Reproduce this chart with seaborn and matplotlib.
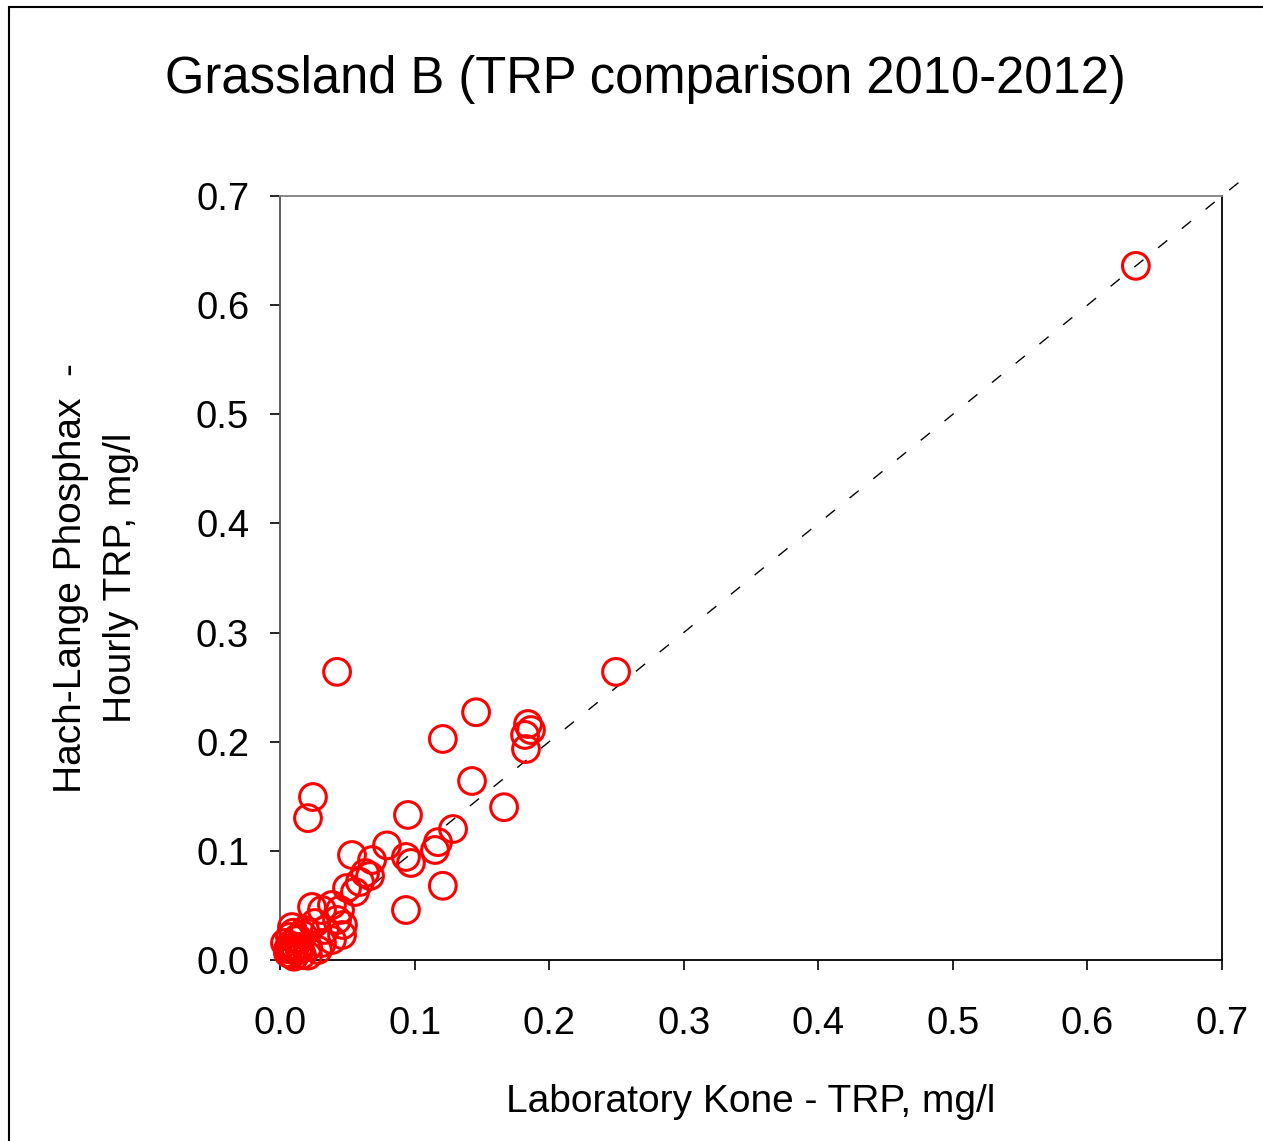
import matplotlib
matplotlib.use("Agg")
import matplotlib.pyplot as plt
import seaborn as sns
import pandas as pd
from matplotlib.patches import Rectangle

# Laboratory Kone TRP (mg/l)
kone_trp = [
    0.636, 0.2497, 0.0424, 0.1457, 0.121, 0.1843, 0.1865, 0.1821, 0.1828,
    0.1427, 0.1665, 0.0951, 0.0245, 0.0208, 0.0795, 0.1286, 0.1174, 0.1152,
    0.121, 0.0936, 0.0936, 0.0973, 0.0535,
    0.0684, 0.0632, 0.0669, 0.0594, 0.0498, 0.0557, 0.0238, 0.0312, 0.0386,
    0.0446, 0.0424, 0.0468, 0.0461, 0.0386, 0.0312, 0.0208, 0.0089, 0.0074,
    0.0111, 0.0059, 0.0163, 0.0208, 0.0282, 0.0037, 0.0334, 0.0260, 0.0186,
    0.0074, 0.0126, 0.0149, 0.0097, 0.0100, 0.0130, 0.0080, 0.0105, 0.0060,
    0.0140, 0.0170,
]
# Hach-Lange Phosphax hourly TRP (mg/l)
phosphax_trp = [
    0.636, 0.264, 0.264, 0.227, 0.2025, 0.2162, 0.2107, 0.2062, 0.1933,
    0.164, 0.140, 0.1329, 0.1493, 0.130, 0.105, 0.120, 0.108, 0.1008,
    0.068, 0.0458, 0.0944, 0.0889, 0.0962,
    0.0916, 0.0797, 0.0770, 0.0715, 0.0660, 0.0623, 0.0486, 0.0458, 0.0504,
    0.0458, 0.0367, 0.0321, 0.0229, 0.0183, 0.0156, 0.0119, 0.0302, 0.0211,
    0.0119, 0.0064, 0.0046, 0.0040, 0.0092, 0.0156, 0.0275, 0.0339, 0.0275,
    0.0137, 0.0183, 0.0092, 0.0092, 0.0250, 0.0200, 0.0050, 0.0030, 0.0100,
    0.0120, 0.0230,
]
tick_values = [0.0, 0.1, 0.2, 0.3, 0.4, 0.5, 0.6, 0.7]
tick_labels = ["0.0", "0.1", "0.2", "0.3", "0.4", "0.5", "0.6", "0.7"]
one_to_one = [0.0, 0.713]

df = pd.DataFrame({"kone": kone_trp, "phosphax": phosphax_trp})

sns.set_theme(style="white")
plt.rcParams["font.family"] = ["Liberation Sans", "DejaVu Sans"]

fig = plt.figure(figsize=(12.63, 11.41), dpi=100)
ax = fig.add_axes([280 / 1263, 1 - 960 / 1141, 942 / 1263, 764 / 1141])

ax.plot(one_to_one, one_to_one, color="black", lw=1.0, dashes=(8.5, 13.5),
        clip_on=False, zorder=1)

sns.scatterplot(data=df, x="kone", y="phosphax", ax=ax, marker="o", s=370,
                facecolor="none", edgecolor="red", linewidth=2.2, zorder=3,
                clip_on=False)

ax.set_xlim(0, 0.7)
ax.set_ylim(0, 0.7)
ax.set_xticks(tick_values)
ax.set_xticklabels(tick_labels)
ax.set_yticks(tick_values)
ax.set_yticklabels(tick_labels)
ax.tick_params(axis="both", direction="out", length=7.2, width=1.2,
               color="black", labelsize=27.5, labelcolor="black")
ax.tick_params(axis="x", pad=26, bottom=True)
ax.tick_params(axis="y", pad=15, left=True)
ax.tick_params(axis="x", which="both", top=False)
for side in ["left", "bottom", "right", "top"]:
    ax.spines[side].set_visible(True)
    ax.spines[side].set_color("black")
    ax.spines[side].set_linewidth(1.3)
ax.spines["top"].set_color("#808080")
ax.spines["left"].set_color("#555555")
ax.grid(False)

ax.set_xlabel("Laboratory Kone - TRP, mg/l", fontsize=28, labelpad=30,
              color="black")
ax.set_ylabel("Hach-Lange Phosphax  -\nHourly TRP, mg/l", fontsize=28,
              labelpad=41, color="black", linespacing=1.5)

fig.text(645 / 1263, 1 - 79 / 1141, "Grassland B (TRP comparison 2010-2012)",
         ha="center", va="center", fontsize=36.5, color="black")

fig.patches.append(Rectangle((9 / 1263, -0.1), 1.2, 1 - 7 / 1141 + 0.1,
                             transform=fig.transFigure, fill=False,
                             edgecolor="black", linewidth=1.5))

fig.savefig("out.png", dpi=100, facecolor="white")
